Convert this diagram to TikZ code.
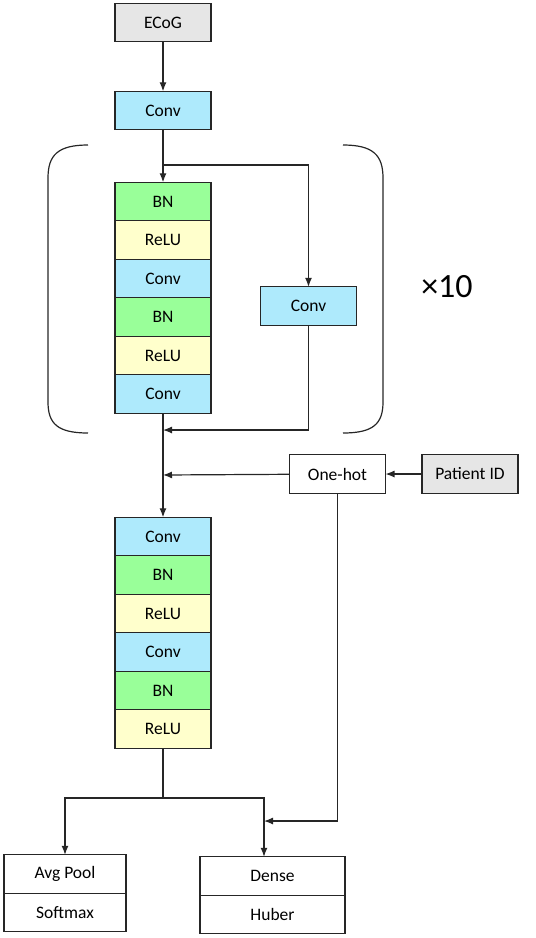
\documentclass[tikz,border=0pt]{standalone}
\usepackage{fontspec}
\setmainfont{Carlito}
\usetikzlibrary{positioning,arrows.meta}
\definecolor{convc}{RGB}{174,234,252}
\definecolor{bnc}{RGB}{153,255,153}
\definecolor{reluc}{RGB}{255,255,204}
\definecolor{inc}{RGB}{230,230,230}

\begin{document}
\begin{tikzpicture}[x=1pt, y=-1pt, ->, >={Latex[length=9pt,width=7pt]}, node distance=0pt,
                        line width=1.2pt, draw=black!85,
                        blk/.style={draw=black!85, line width=1.4pt, minimum width=96pt, minimum height=38.5pt,
                                    inner sep=0pt, outer sep=0pt, font=\fontsize{17.5}{20}\selectfont},
                        conv/.style={blk,fill=convc}, bn/.style={blk,fill=bnc},
                        relu/.style={blk,fill=reluc}, inp/.style={blk,fill=inc},
                        headbox/.style={blk,fill=white}
                        ]
    \useasboundingbox (0,0) rectangle (536,938);
    \node (ecog) [inp] at (163,22.5) {ECoG};
    \node (conv0) [conv] at (163,110.5) {Conv};
    % residual block
    \node (bn1) [bn] at (163,201.5) {BN};
    \node (relu1) [relu,below=of bn1] {ReLU};
    \node (conv1) [conv,below=of relu1] {Conv};
    \node (bn2) [bn,below=of conv1] {BN};
    \node (relu2) [relu,below=of bn2] {ReLU};
    \node (conv2) [conv,below=of relu2] {Conv};
    \node (skip) [conv] at (308.5,306) {Conv};
    \node (rep) [font=\fontsize{34}{40}\selectfont] at (447,287) {×10};
    \coordinate (split) at (163,165);
    \coordinate (join) at (163,430);
    % patient input
    \node (onehot) [headbox] at (337.5,474) {One-hot};
    \node (pid) [inp] at (470,474) {Patient ID};
    \coordinate (merge) at (163,475);
    % second stack
    \node (conv3) [conv] at (163,536.5) {Conv};
    \node (bn3) [bn,below=of conv3] {BN};
    \node (relu3) [relu,below=of bn3] {ReLU};
    \node (conv4) [conv,below=of relu3] {Conv};
    \node (bn4) [bn,below=of conv4] {BN};
    \node (relu4) [relu,below=of bn4] {ReLU};
    \coordinate (fork) at (163,798);
    \coordinate (joinb) at (264,821);
    % heads
    \node (pool) [headbox,minimum width=122pt] at (65,874) {Avg Pool};
    \node (soft) [headbox,minimum width=122pt,below=of pool] {Softmax};
    \node (dense) [headbox,minimum width=145pt] at (272.5,876) {Dense};
    \node (huber) [headbox,minimum width=145pt,below=of dense] {Huber};
    % brackets
    \draw[-] (88,145) .. controls (58,145) and (48,155) .. (48,178) -- (48,402)
             .. controls (48,424) and (58,433) .. (88,433);
    \draw[-] (343,145) .. controls (373,145) and (383,155) .. (383,178) -- (383,402)
             .. controls (383,424) and (373,433) .. (343,433);
    \draw (ecog) -- (conv0);
    \draw (conv0) -- (bn1);
    \draw (split) -| (skip);
    \draw (skip) |- (join);
    \draw (conv2) -- (conv3);
    \draw (pid) -- (onehot);
    \draw (onehot) -- (merge);
    \draw[-] (relu4) -- (fork);
    \draw (fork) -| (pool);
    \draw (fork) -| (joinb) -- (joinb |- dense.north);
    \draw (onehot) |- (joinb);
    \end{tikzpicture}
\end{document}
